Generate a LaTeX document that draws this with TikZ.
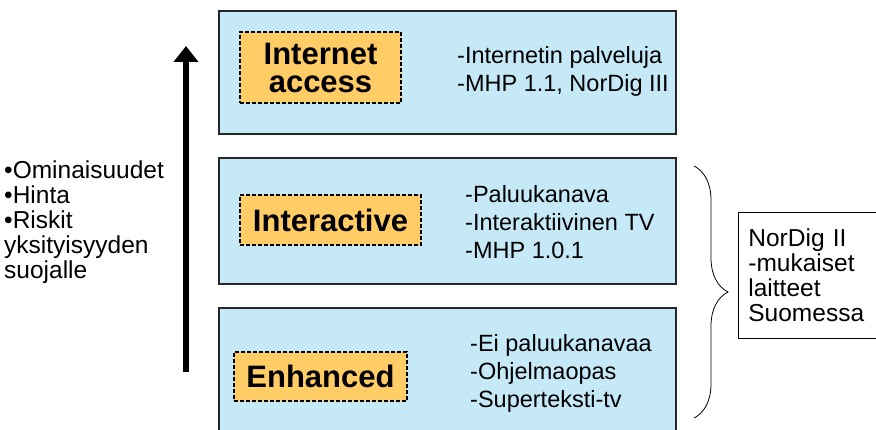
\documentclass[tikz,border=0pt]{standalone}
\usepackage{fontspec}
\setmainfont{Liberation Sans}
\usetikzlibrary{positioning,arrows.meta,decorations.pathreplacing}

\definecolor{layerblue}{RGB}{198,233,248}
\definecolor{tagorange}{RGB}{255,204,102}

\tikzset{
    layer/.style={draw=black!85, line width=1.6pt, fill=layerblue, anchor=north west,
        minimum width=457pt, inner sep=0pt},
    tag/.style={draw, line width=1.4pt, dash pattern=on 4pt off 2pt, fill=tagorange,
        align=center, inner sep=0pt, font=\bfseries\fontsize{31}{28}\selectfont},
    feat/.style={align=left, anchor=west, inner sep=0pt, font=\fontsize{23.5}{28}\selectfont},
}

\begin{document}
\begin{tikzpicture}[x=1pt,y=-1pt]
    \useasboundingbox (0,0) rectangle (876,430);

    % Layers
    \node[layer, minimum height=123pt] (inet) at (218,10) {};
    \node[layer, minimum height=126pt] (inter) at (218,157) {};
    \node[layer, minimum height=135pt] (enh) at (218,307) {};

    % Layer names
    \node[tag, minimum width=161pt, minimum height=71pt] (inet-tag) at (320.5,67.5) {Internet\\access};
    \node[tag, minimum width=181pt, minimum height=50pt] (inter-tag) at (330.5,220) {Interactive};
    \node[tag, minimum width=173pt, minimum height=49pt] (enh-tag) at (320.5,376.5) {Enhanced};

    % Features of each layer
    \node[feat] (inet-txt) at (457,71) {-Internetin palveluja\\-MHP 1.1, NorDig III};
    \node[feat] (inter-txt) at (465,222.5) {-Paluukanava\\-Interaktiivinen TV\\-MHP 1.0.1};
    \node[feat] (enh-txt) at (470,373) {-Ei paluukanavaa\\-Ohjelmaopas\\-Superteksti-tv};

    % Growing arrow
    \coordinate (arr-low) at (186,372);
    \coordinate (arr-high) at (186,46);
    \draw[line width=6pt, -{Triangle[width=24pt,length=16pt]}] (arr-low) -- (arr-high);

    % Criteria on the left
    \node[feat, font=\fontsize{24.5}{25}\selectfont] (crit) at (4,222)
        {\textbullet Ominaisuudet\\\textbullet Hinta\\\textbullet Riskit\\yksityisyyden\\suojalle};

    % Brace over the two lower layers
    \coordinate (br-top) at (694,166);
    \coordinate (br-bot) at (694,418);
    \draw[thick, decorate, decoration={brace, amplitude=34pt}] (br-top) -- (br-bot);

    % NorDig II box
    \node[draw, thick, anchor=north west, align=left, text width=150pt, inner xsep=10pt,
        minimum height=126pt, font=\fontsize{24.5}{25}\selectfont] (nordig) at (738,212)
        {NorDig II\\-mukaiset\\laitteet\\Suomessa};
\end{tikzpicture}
\end{document}
